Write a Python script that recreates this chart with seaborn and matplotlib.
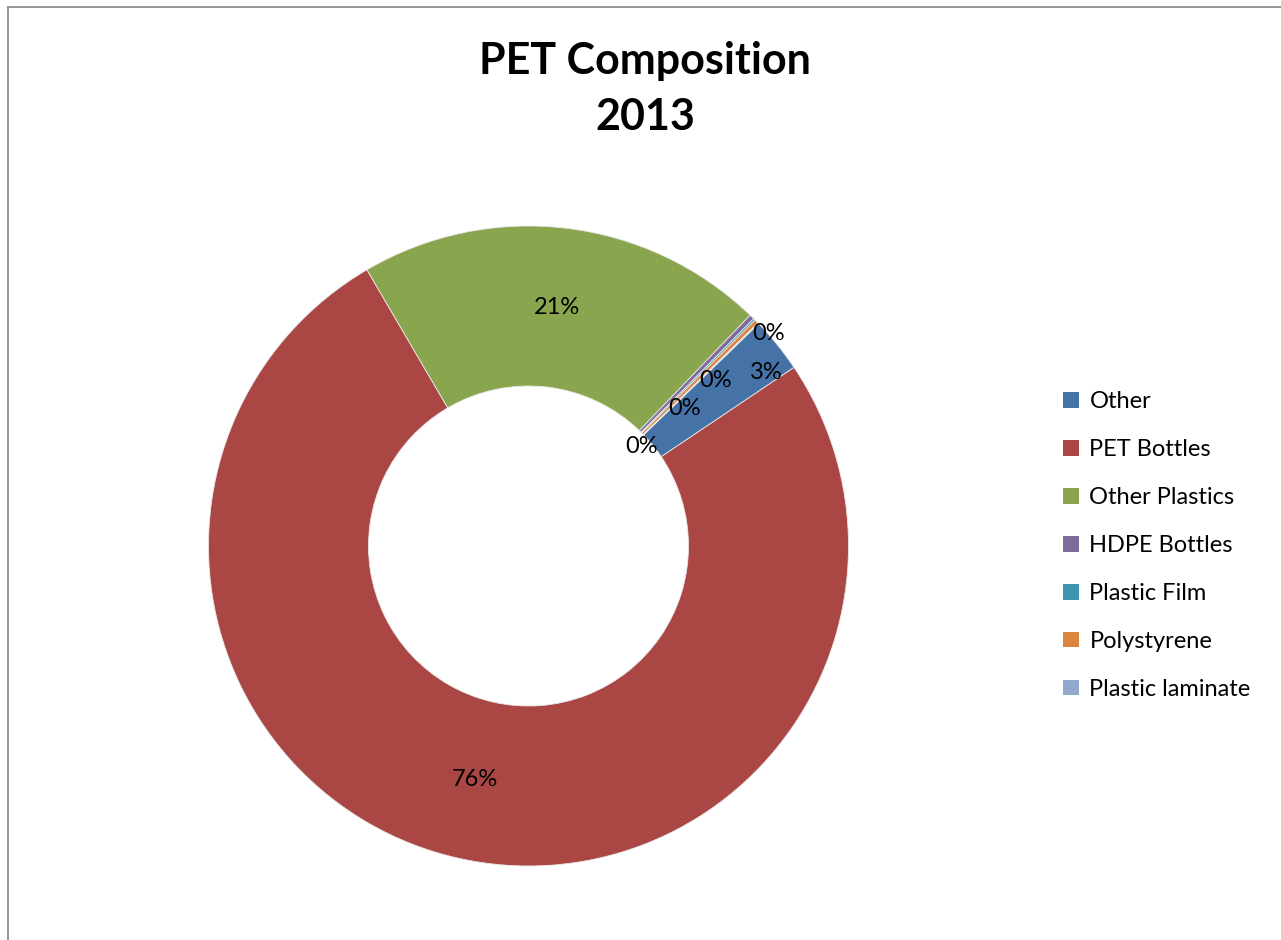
import numpy as np
import matplotlib
matplotlib.use('Agg')
import matplotlib.pyplot as plt
import seaborn as sns
from matplotlib.lines import Line2D
from matplotlib.patches import Patch

# data (percent of total)
categories = ['Other', 'PET Bottles', 'Other Plastics', 'HDPE Bottles',
              'Plastic Film', 'Polystyrene', 'Plastic laminate']
shares = [2.8, 76.0, 20.6, 0.25, 0.1, 0.2, 0.05]
colors = ['#4572A7', '#AA4643', '#89A54E', '#80699B', '#3D96AE', '#DB843D', '#92A8CD']
title = 'PET Composition\n2013'

sns.set_theme(style='white')
plt.rcParams['font.family'] = ['Lato', 'DejaVu Sans']
plt.rcParams['text.color'] = 'black'

W, H = 1281, 940
fig = plt.figure(figsize=(W / 100, H / 100), dpi=100)

# pie axes: centre (528,546) px, radius 320 px
cx, cy, r = 528.5, 546, 320
ax = fig.add_axes([(cx - r) / W, (H - cy - r) / H, 2 * r / W, 2 * r / H])

pal = sns.color_palette(colors)
wedges, texts, autotexts = ax.pie(
    shares, colors=pal, startangle=44, counterclock=False, radius=1,
    autopct='%.0f%%', pctdistance=0.75,
    wedgeprops=dict(width=0.5, edgecolor='#e8e8e8', linewidth=0.6),
    textprops=dict(fontsize=17, color='black'))
ax.set_xlim(-1, 1)
ax.set_ylim(-1, 1)
ax.axis('off')

# excel-style label placement for the tiny slices, stacked on a radial line
small_r = {3: 1.0, 4: 0.78, 5: 0.65, 6: 0.47}
for i, t in enumerate(autotexts):
    if i in small_r:
        ang = np.deg2rad(41.5)
        t.set_position((small_r[i] * np.cos(ang), small_r[i] * np.sin(ang)))
    elif i == 0:
        ang = np.deg2rad(36)
        t.set_position((0.92 * np.cos(ang), 0.92 * np.sin(ang)))

fig.text(645 / W, 1 - 89 / H, title, ha='center', va='center', color='black',
         fontsize=31, fontweight='bold', linespacing=1.5)

handles = [Patch(facecolor=c, edgecolor='none') for c in colors]
leg = fig.legend(handles, categories, loc='center left',
                 bbox_to_anchor=(1054 / W, 1 - 545.5 / H), frameon=False,
                 fontsize=17, handlelength=0.65, handleheight=0.65,
                 handletextpad=0.45, labelspacing=1.14, borderaxespad=0)
for t in leg.get_texts():
    t.set_color('black')

# chart area border (left and top edges visible)
fig.add_artist(Line2D([7.5 / W, 7.5 / W], [0, 1 - 6.5 / H], color='#858585', lw=1.2))
fig.add_artist(Line2D([7.5 / W, 1], [1 - 6.5 / H, 1 - 6.5 / H], color='#858585', lw=1.2))

fig.savefig('out.png', dpi=100)
